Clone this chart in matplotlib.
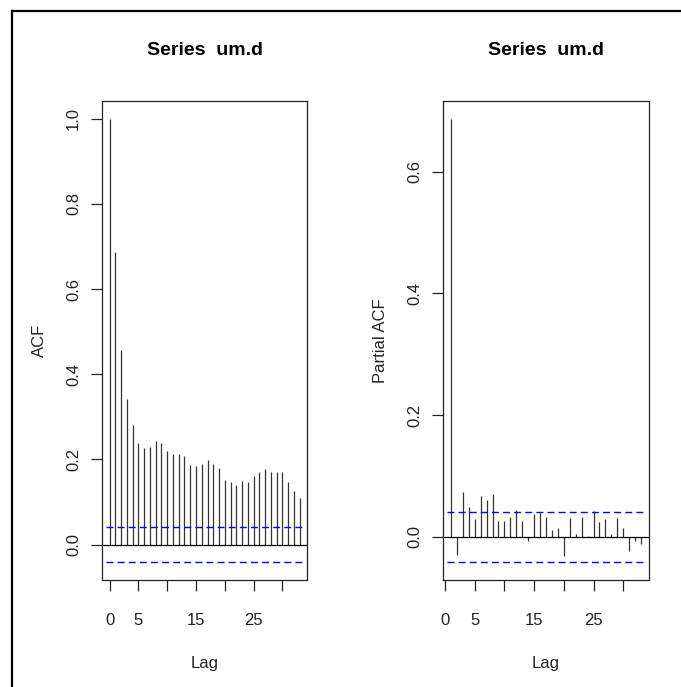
import numpy as np
import matplotlib
matplotlib.use("Agg")
import matplotlib.pyplot as plt
from matplotlib.lines import Line2D

plt.rcParams['font.family'] = ['Liberation Sans', 'DejaVu Sans']

# autocorrelations
acf_lags = list(range(0, 34))
acf_vals = [1.000, 0.687, 0.457, 0.342, 0.281, 0.238, 0.227, 0.230, 0.244, 0.238,
            0.220, 0.213, 0.213, 0.209, 0.187, 0.184, 0.190, 0.198, 0.190, 0.181,
            0.152, 0.147, 0.140, 0.149, 0.146, 0.160, 0.170, 0.177, 0.170, 0.170,
            0.170, 0.147, 0.127, 0.109]

pacf_lags = list(range(1, 34))
pacf_vals = [0.687, -0.029, 0.074, 0.049, 0.030, 0.067, 0.061, 0.070, 0.027, 0.027,
             0.033, 0.045, 0.027, -0.007, 0.037, 0.040, 0.033, 0.011, 0.015, -0.032,
             0.031, 0.005, 0.033, 0.001, 0.043, 0.025, 0.030, 0.005, 0.031, 0.015,
             -0.023, -0.007, -0.011]

clim = 0.0415
xtick_pos = [0, 5, 10, 15, 20, 25, 30]
xtick_lab = ['0', '5', '', '15', '', '25', '']

W, H = 681, 687
fig = plt.figure(figsize=(W / 100, H / 100), dpi=100)


def panel(rect, lags, vals, ylabel, yticks):
    ax = fig.add_axes(rect)
    ax.vlines(lags, 0, vals, color='#333333', lw=0.9)
    ax.axhline(0, color='black', lw=0.9)
    for c in (clim, -clim):
        ax.axhline(c, color='#0000ff', lw=1.0, ls=(0, (5, 3)), xmin=0.02, xmax=0.98)
    lo = min(min(vals), -clim)
    hi = max(max(vals), clim)
    pad = 0.04 * (hi - lo)
    ax.set_ylim(lo - pad, hi + pad)
    x0, x1 = lags[0], lags[-1]
    xp = 0.04 * (x1 - x0)
    ax.set_xlim(x0 - xp, x1 + xp)
    ax.set_xticks(xtick_pos)
    ax.set_xticklabels(xtick_lab)
    ax.set_yticks(yticks)
    ax.set_yticklabels([f"{t:.1f}" for t in yticks], rotation=90, va='center')
    ax.tick_params(length=8, width=0.9, labelsize=12, color='#222222', labelcolor='#222222')
    ax.tick_params(axis='x', pad=16)
    ax.tick_params(axis='y', pad=7)
    for s in ax.spines.values():
        s.set_linewidth(0.9)
        s.set_color('#222222')
    ax.set_title("Series  um.d", fontsize=14, fontweight='bold', pad=33)
    ax.set_xlabel("Lag", fontsize=12, labelpad=20, color='#222222')
    ax.set_ylabel(ylabel, fontsize=12, labelpad=14, color='#222222')
    return ax


panel([102 / W, 1 - 580 / H, 205.3 / W, 479 / H], acf_lags, acf_vals, "ACF",
      [0.0, 0.2, 0.4, 0.6, 0.8, 1.0])
panel([443.3 / W, 1 - 580 / H, 205.4 / W, 479 / H], pacf_lags, pacf_vals, "Partial ACF",
      [0.0, 0.2, 0.4, 0.6])

# frame of the original screenshot (left and top edges)
fig.add_artist(Line2D([12 / W, 12 / W], [0, 1 - 11 / H], color='black', lw=1.6,
                      transform=fig.transFigure))
fig.add_artist(Line2D([12 / W, 1], [1 - 11 / H, 1 - 11 / H], color='black', lw=1.6,
                      transform=fig.transFigure))

fig.savefig("out.png", dpi=100)
